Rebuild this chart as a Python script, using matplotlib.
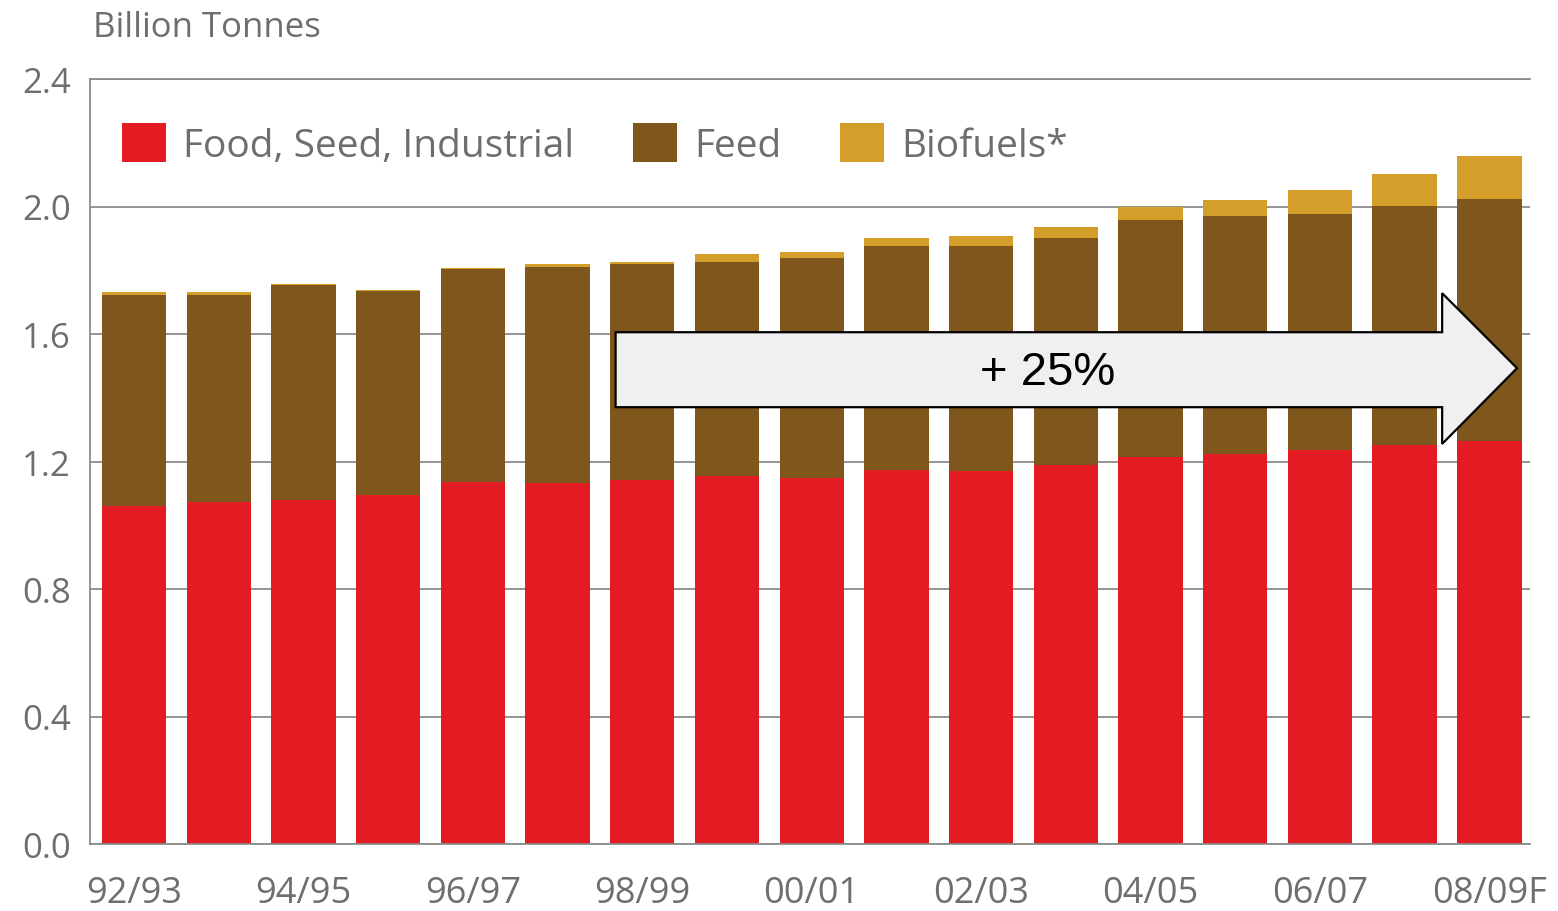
import matplotlib
matplotlib.use("Agg")
import matplotlib.pyplot as plt
import matplotlib.patches as patches
import numpy as np

# grain use by marketing year, billion tonnes
seasons = ["92/93", "93/94", "94/95", "95/96", "96/97", "97/98", "98/99", "99/00",
           "00/01", "01/02", "02/03", "03/04", "04/05", "05/06", "06/07", "07/08", "08/09F"]
food_seed_ind = [1.061, 1.072, 1.080, 1.095, 1.135, 1.133, 1.142, 1.153, 1.148,
                 1.174, 1.170, 1.189, 1.215, 1.225, 1.237, 1.252, 1.263]
feed = [0.661, 0.650, 0.674, 0.640, 0.669, 0.676, 0.679, 0.673, 0.689,
        0.701, 0.705, 0.712, 0.743, 0.744, 0.739, 0.750, 0.762]
biofuels = [0.011, 0.011, 0.004, 0.004, 0.002, 0.011, 0.005, 0.025, 0.021,
            0.026, 0.032, 0.036, 0.041, 0.051, 0.076, 0.100, 0.132]
series_names = ["Food, Seed, Industrial", "Feed", "Biofuels*"]
yticks = [0.0, 0.4, 0.8, 1.2, 1.6, 2.0, 2.4]
growth_label = "+ 25%"

RED = "#e31b23"
BROWN = "#7f561c"
GOLD = "#d49e2b"
GREY_TXT = "#6e6e6e"
GRID = "#8c8c8c"

plt.rcParams['font.family'] = ['Open Sans', 'DejaVu Sans']

fig = plt.figure(figsize=(15.58, 9.12), dpi=100)
ax = fig.add_axes([90 / 1558, 1 - 845 / 912, 1440 / 1558, 765 / 912])

x = np.arange(len(seasons))
food = np.array(food_seed_ind)
fd = np.array(feed)
bio = np.array(biofuels)

w = 0.76
ax.bar(x, food, w, color=RED, zorder=2, label=series_names[0])
ax.bar(x, fd, w, bottom=food, color=BROWN, zorder=2, label=series_names[1])
ax.bar(x, bio, w, bottom=food + fd, color=GOLD, zorder=2, label=series_names[2])

ax.set_xlim(-0.52, len(seasons) - 0.52)
ax.set_ylim(0, 2.4)
ax.set_yticks(yticks)
ax.set_yticklabels([f"{v:.1f}" for v in yticks])
ax.set_xticks(x[::2])
ax.set_xticklabels(seasons[::2])

ax.yaxis.grid(True, color=GRID, lw=1.3, zorder=0)
ax.set_axisbelow(True)
for s in ["left", "bottom", "top"]:
    ax.spines[s].set_color(GRID)
    ax.spines[s].set_linewidth(1.3)
ax.spines["right"].set_visible(False)

ax.tick_params(axis="y", length=0, pad=14, labelsize=25, labelcolor=GREY_TXT)
ax.tick_params(axis="x", length=0, pad=22, labelsize=26, labelcolor=GREY_TXT)

leg = ax.legend(loc="center left", bbox_to_anchor=(0.0222, 0.915), ncol=3,
                frameon=False, fontsize=28, handlelength=1.13, handleheight=1.15,
                handletextpad=0.45, columnspacing=1.5, borderpad=0, borderaxespad=0)
for t in leg.get_texts():
    t.set_color(GREY_TXT)

fig.text(93 / 1558, 1 - 37 / 912, "Billion Tonnes", ha="left", va="baseline",
         fontsize=25, color=GREY_TXT)

# block arrow showing the growth over the period (axes fractions)
arrow_pts = [(0.365, 0.669), (0.939, 0.669), (0.939, 0.720), (0.991, 0.622),
             (0.939, 0.523), (0.939, 0.571), (0.365, 0.571)]
arrow = patches.Polygon(arrow_pts, closed=True, transform=ax.transAxes,
                        facecolor="#f0f0f0", edgecolor="black", lw=1.6, zorder=5)
ax.add_patch(arrow)
ax.text(0.665, 0.617, growth_label, transform=ax.transAxes, ha="center", va="center",
        fontsize=34, family=["Liberation Sans", "DejaVu Sans"], color="black", zorder=6)

fig.savefig("out.png", dpi=100)
